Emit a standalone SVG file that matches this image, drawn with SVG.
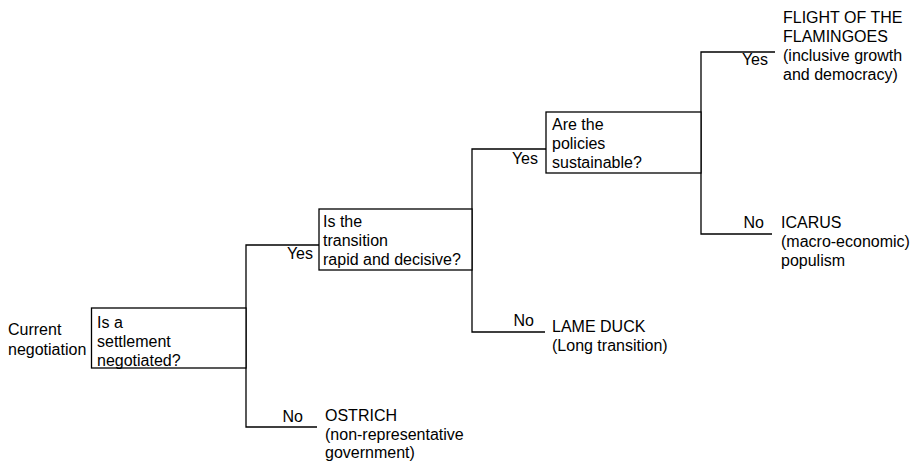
<svg xmlns="http://www.w3.org/2000/svg" width="915" height="462" viewBox="0 0 915 462">
<style>
text{font-family:"Liberation Sans",Arial,sans-serif;font-size:16px;fill:#000}
.box{fill:#fff;stroke:#000;stroke-width:1.3}
.ln{fill:none;stroke:#000;stroke-width:1.3}
.r{text-anchor:end}
</style>
<rect width="915" height="462" fill="#fff"/>
<g id="connectors">
<path class="ln" d="M319,245 H246 V427 H317"/>
<path class="ln" d="M546,149 H472 V332 H545"/>
<path class="ln" d="M775,52 H701 V234 H772"/>
</g>
<g id="start"><text x="8" y="335">Current</text><text x="8" y="355">negotiation</text></g>
<g id="q1">
<rect class="box" x="91.5" y="308" width="154.5" height="60"/>
<text x="97" y="328">Is a</text><text x="97" y="347">settlement</text><text x="97" y="366">negotiated?</text>
</g>
<g id="q2">
<rect class="box" x="319" y="209" width="153" height="61"/>
<text x="323" y="227">Is the</text><text x="323" y="246">transition</text><text x="323" y="265">rapid and decisive?</text>
</g>
<g id="q3">
<rect class="box" x="546" y="112" width="155" height="61"/>
<text x="552" y="130">Are the</text><text x="552" y="149">policies</text><text x="552" y="168">sustainable?</text>
</g>
<g id="labels">
<text class="r" x="313" y="259">Yes</text>
<text class="r" x="303" y="422">No</text>
<text class="r" x="538" y="164">Yes</text>
<text class="r" x="534" y="326">No</text>
<text class="r" x="768" y="65">Yes</text>
<text class="r" x="764" y="228">No</text>
</g>
<g id="ostrich"><text x="325" y="421">OSTRICH</text><text x="325" y="440">(non-representative</text><text x="325" y="458">government)</text></g>
<g id="lameduck"><text x="552" y="332">LAME DUCK</text><text x="552" y="351">(Long transition)</text></g>
<g id="flamingoes"><text x="783" y="23">FLIGHT OF THE</text><text x="783" y="42">FLAMINGOES</text><text x="783" y="61">(inclusive growth</text><text x="783" y="80">and democracy)</text></g>
<g id="icarus"><text x="781" y="228">ICARUS</text><text x="781" y="247">(macro-economic)</text><text x="781" y="266">populism</text></g>
</svg>
